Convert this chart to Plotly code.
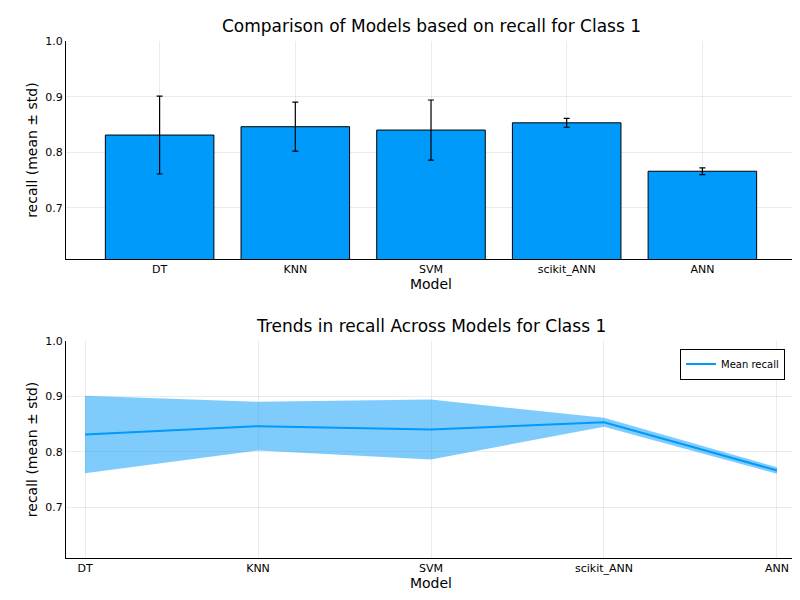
import plotly.graph_objects as go
from plotly.subplots import make_subplots

models = ['DT', 'KNN', 'SVM', 'scikit_ANN', 'ANN']
recall_mean = [0.831, 0.846, 0.840, 0.853, 0.766]
recall_std = [0.070, 0.044, 0.054, 0.008, 0.006]

azul = '#009AFA'
fonte = 'DejaVu Sans, sans-serif'

fig = make_subplots(rows=2, cols=1)

fig.add_trace(go.Bar(
    x=models, y=recall_mean, width=0.8,
    marker=dict(color=azul, line=dict(color='black', width=1)),
    error_y=dict(type='data', array=recall_std, color='black', thickness=1.2, width=3),
    showlegend=False
), row=1, col=1)

upper = [m + s for m, s in zip(recall_mean, recall_std)]
lower = [m - s for m, s in zip(recall_mean, recall_std)]
fig.add_trace(go.Scatter(x=models, y=upper, mode='lines', line=dict(width=0),
                         showlegend=False, hoverinfo='skip'), row=2, col=1)
fig.add_trace(go.Scatter(x=models, y=lower, mode='lines', line=dict(width=0),
                         fill='tonexty', fillcolor='rgba(0,154,250,0.5)',
                         showlegend=False, hoverinfo='skip'), row=2, col=1)
fig.add_trace(go.Scatter(x=models, y=recall_mean, mode='lines',
                         line=dict(color=azul, width=2), name='Mean recall'), row=2, col=1)

eixo = dict(showline=True, linecolor='black', linewidth=1, showgrid=True,
            gridcolor='rgba(0,0,0,0.08)', ticks='', tickfont=dict(size=11),
            zeroline=False, mirror=False, automargin=False)

fig.update_xaxes(**eixo, title=dict(text='Model', font=dict(size=14), standoff=2))
fig.update_yaxes(**eixo, title=dict(text='recall (mean ± std)', font=dict(size=14), standoff=4),
                 range=[0.608, 1.0], tickvals=[0.7, 0.8, 0.9, 1.0],
                 ticktext=['0.7', '0.8', '0.9', '1.0'])
fig.update_xaxes(range=[-0.69, 4.69], domain=[0, 1], row=1, col=1)
fig.update_xaxes(range=[-0.11, 4.11], domain=[0, 1], row=2, col=1)
fig.update_yaxes(domain=[0.578, 1], row=1, col=1)
fig.update_yaxes(domain=[0, 0.42], row=2, col=1)

fig.add_annotation(text='Comparison of Models based on recall for Class 1', x=0.5, y=1.0,
                   xref='paper', yref='paper', yanchor='bottom', yshift=3,
                   showarrow=False, font=dict(size=17))
fig.add_annotation(text='Trends in recall Across Models for Class 1', x=0.5, y=0.42,
                   xref='paper', yref='paper', yanchor='bottom', yshift=3,
                   showarrow=False, font=dict(size=17))

fig.update_layout(
    width=800, height=600,
    margin=dict(l=58, r=12, t=33, b=50),
    plot_bgcolor='white', paper_bgcolor='white',
    font=dict(family=fonte, color='black'),
    legend=dict(x=0.985, y=0.405, xanchor='right', yanchor='top',
                bordercolor='black', borderwidth=1, font=dict(size=10)),
    bargap=0.2
)

fig.write_html("out.html")
